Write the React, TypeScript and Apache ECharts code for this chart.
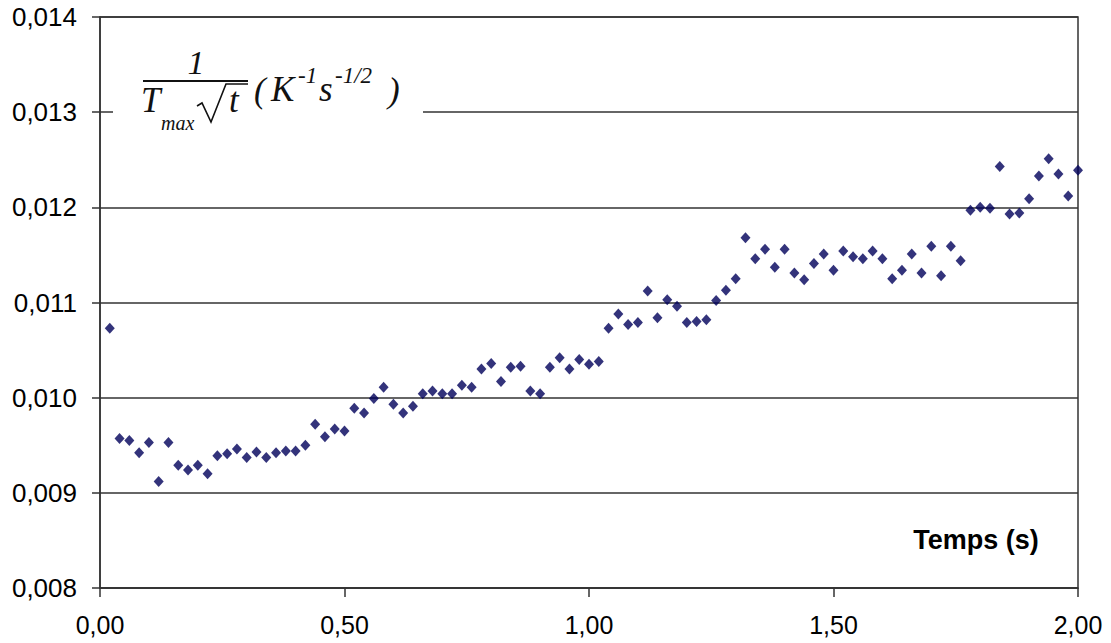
import React, { useEffect, useRef } from "react";
import * as echarts from "echarts";

const times: number[] = [
  0.02, 0.04, 0.06, 0.08, 0.1, 0.12, 0.14, 0.16, 0.18, 0.2,
  0.22, 0.24, 0.26, 0.28, 0.3, 0.32, 0.34, 0.36, 0.38, 0.4,
  0.42, 0.44, 0.46, 0.48, 0.5, 0.52, 0.54, 0.56, 0.58, 0.6,
  0.62, 0.64, 0.66, 0.68, 0.7, 0.72, 0.74, 0.76, 0.78, 0.8,
  0.82, 0.84, 0.86, 0.88, 0.9, 0.92, 0.94, 0.96, 0.98, 1.0,
  1.02, 1.04, 1.06, 1.08, 1.1, 1.12, 1.14, 1.16, 1.18, 1.2,
  1.22, 1.24, 1.26, 1.28, 1.3, 1.32, 1.34, 1.36, 1.38, 1.4,
  1.42, 1.44, 1.46, 1.48, 1.5, 1.52, 1.54, 1.56, 1.58, 1.6,
  1.62, 1.64, 1.66, 1.68, 1.7, 1.72, 1.74, 1.76, 1.78, 1.8,
  1.82, 1.84, 1.86, 1.88, 1.9, 1.92, 1.94, 1.96, 1.98, 2.0,
];

const values: number[] = [
  0.01073, 0.00957, 0.00955, 0.00942, 0.00953, 0.00912, 0.00953, 0.00929, 0.00924, 0.00929,
  0.0092, 0.00939, 0.00941, 0.00946, 0.00937, 0.00943, 0.00937, 0.00942, 0.00944, 0.00944,
  0.0095, 0.00972, 0.00959, 0.00967, 0.00965, 0.00989, 0.00984, 0.00999, 0.01011, 0.00993,
  0.00984, 0.00991, 0.01004, 0.01007, 0.01004, 0.01004, 0.01013, 0.01011, 0.0103, 0.01036,
  0.01017, 0.01032, 0.01033, 0.01007, 0.01004, 0.01032, 0.01042, 0.0103, 0.0104, 0.01035,
  0.01038, 0.01073, 0.01088, 0.01077, 0.01079, 0.01112, 0.01084, 0.01103, 0.01096, 0.01079,
  0.0108, 0.01082, 0.01102, 0.01113, 0.01125, 0.01168, 0.01146, 0.01156, 0.01137, 0.01156,
  0.01131, 0.01124, 0.01141, 0.01151, 0.01134, 0.01154, 0.01148, 0.01146, 0.01154, 0.01146,
  0.01125, 0.01134, 0.01151, 0.01131, 0.01159, 0.01128, 0.01159, 0.01144, 0.01197, 0.012,
  0.01199, 0.01243, 0.01193, 0.01194, 0.01209, 0.01233, 0.01251, 0.01235, 0.01212, 0.01239,
];

const xAxisTitle = "Temps (s)";

export default function App() {
  const ref = useRef<HTMLDivElement>(null);

  useEffect(() => {
    if (!ref.current) return;
    const chart = echarts.init(ref.current, null, { renderer: "svg" });
    const lineColor = "#333333";
    const serif = "'Liberation Serif', 'Times New Roman', serif";
    const sans = "'Liberation Sans', Arial, sans-serif";
    const mathBlack = "#111111";

    const mathText = (text: string, x: number, y: number, size: number, align = "left") => ({
      type: "text",
      z: 60,
      x,
      y,
      style: {
        text,
        fontFamily: serif,
        fontStyle: "italic",
        fontSize: size,
        fill: mathBlack,
        textAlign: align,
        textVerticalAlign: "middle",
      },
    });

    chart.setOption({
      animation: false,
      backgroundColor: "#ffffff",
      grid: {
        left: 100,
        top: 17,
        right: 33,
        bottom: 55,
        show: true,
        borderColor: lineColor,
        borderWidth: 1.5,
        containLabel: false,
        outerBoundsMode: "none",
      },
      xAxis: {
        type: "value",
        min: 0,
        max: 2,
        interval: 0.5,
        axisLine: { show: true, onZero: false, lineStyle: { color: lineColor, width: 1.5 } },
        axisTick: { show: true, inside: false, length: 9, lineStyle: { color: lineColor, width: 1.5 } },
        splitLine: { show: false },
        axisLabel: {
          margin: 24,
          fontSize: 25,
          fontFamily: sans,
          color: "#000",
          formatter: (v: number) => v.toFixed(2).replace(".", ","),
        },
      },
      yAxis: {
        type: "value",
        min: 0.008,
        max: 0.014,
        interval: 0.001,
        axisLine: { show: true, onZero: false, lineStyle: { color: lineColor, width: 1.5 } },
        axisTick: { show: true, inside: false, length: 8, lineStyle: { color: lineColor, width: 1.5 } },
        splitLine: { show: true, lineStyle: { color: lineColor, width: 1.5 } },
        axisLabel: {
          margin: 23,
          fontSize: 26,
          fontFamily: sans,
          color: "#000",
          formatter: (v: number) => v.toFixed(3).replace(".", ","),
        },
      },
      series: [
        {
          type: "scatter",
          data: times.map((t, i) => [t, values[i]]),
          symbol: "diamond",
          symbolSize: [10, 11],
          itemStyle: { color: "#00005a" },
        },
      ],
      graphic: [
        {
          type: "rect",
          z: 50,
          shape: { x: 113, y: 22, width: 310, height: 120 },
          style: { fill: "#ffffff" },
        },
        mathText("1", 196, 62, 34, "center"),
        {
          type: "line",
          z: 60,
          shape: { x1: 143, y1: 81, x2: 248, y2: 81 },
          style: { stroke: mathBlack, lineWidth: 2 },
        },
        mathText("T", 141, 100, 35),
        mathText("max", 161, 123, 20),
        {
          type: "polyline",
          z: 60,
          shape: { points: [[197, 106], [202, 103], [211, 122], [226, 84], [248, 84]] },
          style: { stroke: mathBlack, lineWidth: 1.6, fill: null },
        },
        mathText("t", 229, 100, 35),
        mathText("(", 254, 90, 35),
        mathText("K", 271, 89, 35),
        mathText("-1", 298, 75, 23),
        mathText("s", 319, 89, 35),
        mathText("-1/2", 335, 75, 23),
        mathText(")", 388, 90, 35),
        {
          type: "text",
          z: 60,
          x: 976,
          y: 540,
          style: { text: xAxisTitle, fontFamily: sans, fontWeight: "bold", fontSize: 27, fill: "#000", textAlign: "center", textVerticalAlign: "middle" },
        },
      ],
    });

    return () => chart.dispose();
  }, []);

  return (
    <div
      ref={ref}
      style={{ position: "fixed", left: 0, top: 0, width: 1111, height: 643, background: "#fff" }}
    />
  );
}
